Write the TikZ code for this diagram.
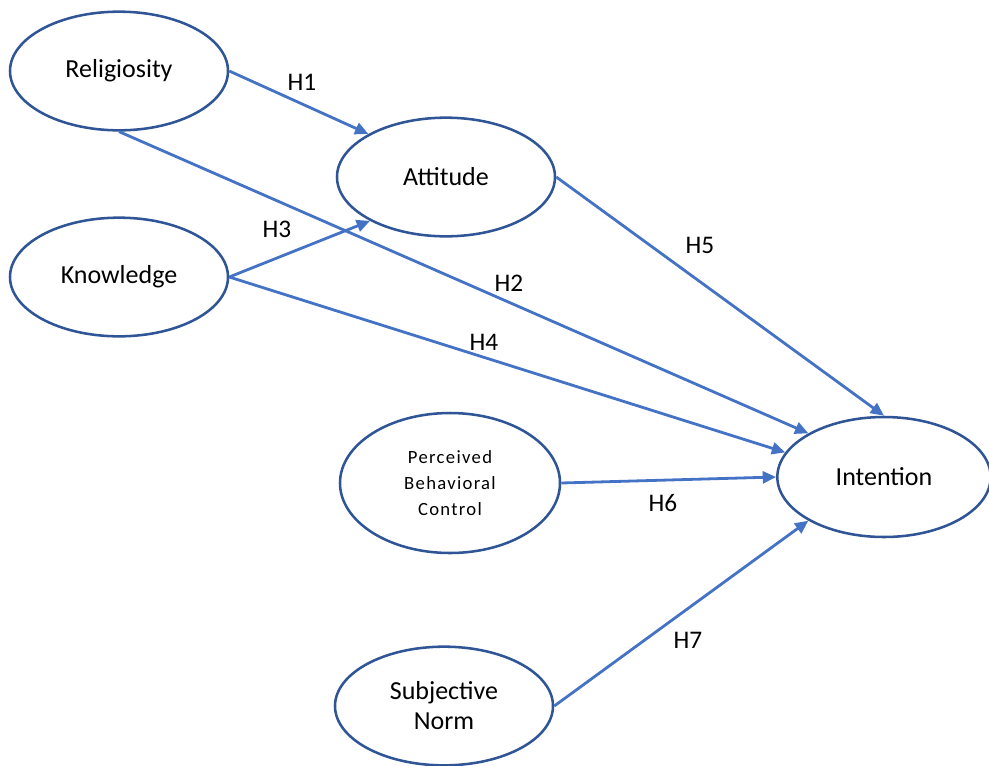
\documentclass[tikz,border=0pt]{standalone}
\usepackage{fontspec}
\setmainfont{Carlito}
\usetikzlibrary{shapes.geometric,arrows.meta}
\definecolor{ellblue}{HTML}{2F5597}
\definecolor{arrblue}{HTML}{4472C4}
\tikzset{
  construct/.style={ellipse, draw=ellblue, line width=1.9pt, fill=white, inner sep=0pt,
    minimum width=163.5pt, minimum height=89pt, align=center,
    font=\fontsize{19.5}{22.5}\selectfont},
  path/.style={draw=arrblue, line width=2.1pt, -{Triangle[length=10pt,width=9pt]}},
  hlabel/.style={font=\fontsize{19}{22}\selectfont, inner sep=0pt}
}
\begin{document}
\begin{tikzpicture}[x=0.75pt,y=-0.75pt]
\useasboundingbox (0,0) rectangle (989,765);
\node[construct] (rel) at (119,71) {Religiosity};
\node[construct] (know) at (119,277) {Knowledge};
\node[construct] (att) at (446,177) {Attitude};
\node[construct, minimum width=165pt, minimum height=105pt,
      font=\fontsize{14}{19.5}\selectfont\addfontfeatures{LetterSpace=7}] (pbc) at (450,483) {Perceived\\Behavioral\\Control};
\node[construct, minimum width=160pt, minimum height=90pt] (int) at (884,477) {Intention};
\node[construct] (sn) at (444,706) {Subjective\\Norm};

\draw[path] (rel.east) -- (att.151);
\draw[path] (rel.south) -- (int.150);
\draw[path] (know.east) -- (att.210);
\draw[path] (know.east) -- (int.166);
\draw[path] (att.east) -- (int.north);
\draw[path] (pbc.east) -- (int.west);
\draw[path] (sn.east) -- (int.210);

\node[hlabel] (h1) at (302,82) {H1};
\node[hlabel] (h2) at (509,283) {H2};
\node[hlabel] (h3) at (277,229) {H3};
\node[hlabel] (h4) at (484,342) {H4};
\node[hlabel] (h5) at (700,245) {H5};
\node[hlabel] (h6) at (663,503) {H6};
\node[hlabel] (h7) at (688,640) {H7};
\end{tikzpicture}
\end{document}
